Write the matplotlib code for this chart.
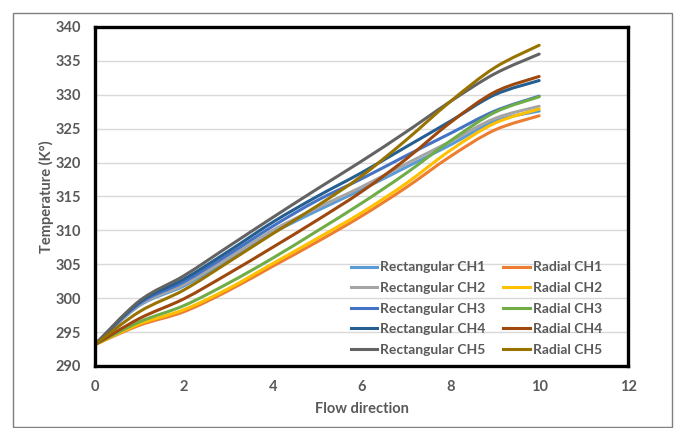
import numpy as np
import matplotlib.pyplot as plt
from matplotlib.path import Path
from matplotlib.patches import PathPatch, Rectangle
from matplotlib.lines import Line2D

plt.rcParams['font.family'] = ['Lato', 'DejaVu Sans']

# Data
flow = [0, 1, 2, 3, 4, 5, 6, 7, 8, 9, 10]

rect_ch1 = [293.15, 298.9, 301.8, 305.6, 309.6, 312.9, 316.0, 319.3, 322.6, 326.1, 327.6]
rect_ch2 = [293.15, 299.0, 302.0, 305.9, 310.0, 313.3, 316.4, 319.8, 323.1, 326.5, 328.3]
rect_ch3 = [293.15, 299.2, 302.4, 306.4, 310.6, 314.4, 317.6, 321.0, 324.3, 327.6, 329.8]
rect_ch4 = [293.15, 299.4, 302.8, 306.9, 311.2, 315.0, 318.5, 322.3, 326.1, 330.0, 332.1]
rect_ch5 = [293.15, 299.6, 303.3, 307.6, 311.9, 316.1, 320.2, 324.5, 329.0, 333.1, 336.0]

rad_ch1 = [293.15, 296.0, 298.0, 301.1, 304.7, 308.3, 312.1, 316.3, 320.9, 324.8, 326.9]
rad_ch2 = [293.15, 296.2, 298.3, 301.4, 305.1, 308.8, 312.6, 316.9, 321.8, 325.8, 327.9]
rad_ch3 = [293.15, 296.5, 298.9, 302.2, 305.9, 309.9, 314.0, 318.4, 323.2, 327.4, 329.7]
rad_ch4 = [293.15, 297.0, 299.9, 303.6, 307.5, 311.5, 315.7, 320.5, 325.9, 330.4, 332.7]
rad_ch5 = [293.15, 298.0, 301.2, 305.3, 309.5, 313.6, 318.0, 323.3, 329.0, 334.0, 337.3]

series = [
    ('Rectangular CH1', rect_ch1, '#5B9BD5'),
    ('Rectangular CH2', rect_ch2, '#A5A5A5'),
    ('Rectangular CH3', rect_ch3, '#4472C4'),
    ('Rectangular CH4', rect_ch4, '#255E91'),
    ('Rectangular CH5', rect_ch5, '#636363'),
    ('Radial CH1', rad_ch1, '#ED7D31'),
    ('Radial CH2', rad_ch2, '#FFC000'),
    ('Radial CH3', rad_ch3, '#70AD47'),
    ('Radial CH4', rad_ch4, '#9E480E'),
    ('Radial CH5', rad_ch5, '#997300'),
]

text_color = '#595959'


def smooth_path(x, y):
    # Bezier segments through the data points (like a spreadsheet "smoothed line")
    p = np.column_stack([x, y]).astype(float)
    n = len(p)
    verts = [p[0]]
    codes = [Path.MOVETO]
    for i in range(n - 1):
        p0 = p[max(i - 1, 0)]
        p1 = p[i]
        p2 = p[i + 1]
        p3 = p[min(i + 2, n - 1)]
        c1 = p1 + (p2 - p0) / 6.0
        c2 = p2 - (p3 - p1) / 6.0
        verts += [c1, c2, p2]
        codes += [Path.CURVE4] * 3
    return Path(verts, codes)


fig = plt.figure(figsize=(6.77, 4.28), dpi=100)
ax = fig.add_axes([0.1403, 0.1449, 0.7873, 0.7921])

# outer chart border
fig.patches.append(Rectangle((13 / 677, 1 / 428), 659 / 677, 414 / 428,
                             transform=fig.transFigure, fill=False,
                             edgecolor='#7f7f7f', linewidth=1.0))

handles = []
for label, vals, color in series:
    patch = PathPatch(smooth_path(flow, vals), fill=False, edgecolor=color,
                      linewidth=2.2, capstyle='round', joinstyle='round')
    ax.add_patch(patch)
    handles.append(Line2D([], [], color=color, linewidth=2.2, label=label))

ax.set_xlim(0, 12)
ax.set_ylim(290, 340)
ax.set_xticks(np.arange(0, 13, 2))
ax.set_yticks(np.arange(290, 341, 5))
ax.yaxis.grid(True, color='#d9d9d9', linewidth=1.0)
ax.set_axisbelow(True)
ax.tick_params(length=0, pad=10, labelsize=10.5, labelcolor=text_color)
for lab in ax.get_xticklabels() + ax.get_yticklabels():
    lab.set_fontweight('bold')

for sp in ax.spines.values():
    sp.set_linewidth(2.4)
    sp.set_color('black')

ax.set_xlabel('Flow direction', fontsize=10.5, fontweight='bold', color=text_color, labelpad=6)
ax.set_ylabel('Temperature (K°)', fontsize=10.5, fontweight='bold', color=text_color, labelpad=1)

leg = ax.legend(handles=handles, ncol=2, loc='lower left', bbox_to_anchor=(0.48, 0.03),
                frameon=False, fontsize=10, handlelength=1.9, handletextpad=0.2,
                columnspacing=1.3, labelspacing=0.62, borderpad=0, borderaxespad=0)
for t in leg.get_texts():
    t.set_color(text_color)
    t.set_fontweight('bold')

fig.savefig('out.png', dpi=100)
